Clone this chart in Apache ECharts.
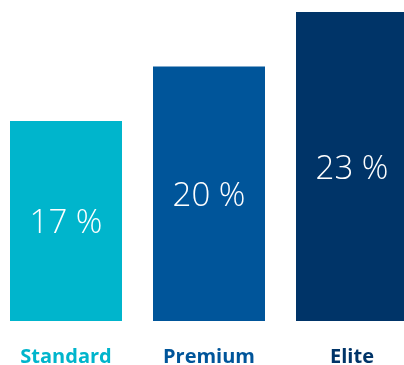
<!DOCTYPE html>
<html>
<head>
<meta charset="utf-8">
<script src="https://cdn.jsdelivr.net/npm/echarts@6/dist/echarts.min.js"></script>
<style>html,body{margin:0;padding:0;background:#fff;}#c{width:404px;height:365px;}</style>
</head>
<body>
<div id="c"></div>
<script>
var categories = ['Standard', 'Premium', 'Elite'];
var values = [17, 20, 23];
var colors = ['#00b5cc', '#00559a', '#003468'];

var chart = echarts.init(document.getElementById('c'), null, {renderer: 'canvas'});
chart.setOption({
  animation: false,
  grid: {left: -5.5, width: 429, top: 12, bottom: 44, containLabel: false, outerBoundsMode: 'none'},
  xAxis: {
    type: 'category',
    data: categories,
    axisLine: {show: false},
    axisTick: {show: false},
    axisLabel: {
      margin: 26,
      fontFamily: 'Open Sans',
      fontWeight: 'bold',
      fontSize: 20,
      color: function (v, i) { return colors[i]; }
    }
  },
  yAxis: {type: 'value', min: 6, max: 23, show: false, splitLine: {show: false}},
  series: [{
    type: 'bar',
    barWidth: 112,
    data: values.map(function (v, i) { return {value: v, itemStyle: {color: colors[i]}}; }),
    label: {
      show: true,
      position: 'inside',
      offset: [0, 3],
      color: '#fff',
      fontFamily: 'Open Sans',
      fontWeight: 300,
      fontSize: 33,
      formatter: function (p) { return p.value + ' %'; }
    }
  }]
});
</script>
</body>
</html>
